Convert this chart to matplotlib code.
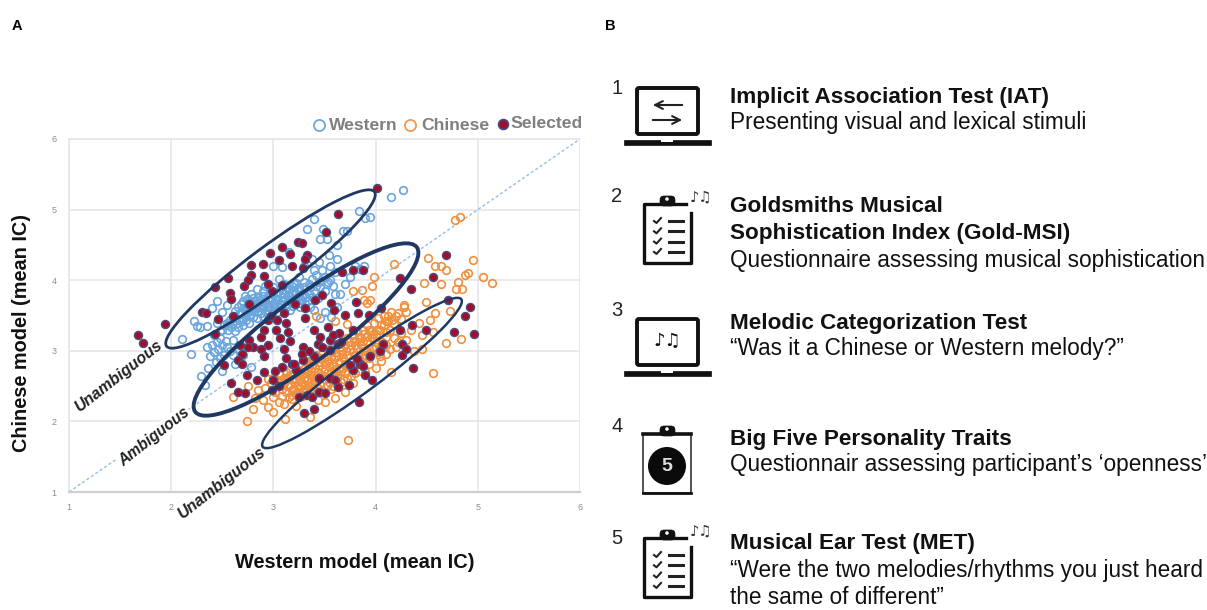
import matplotlib
matplotlib.use("Agg")
import matplotlib.pyplot as plt
from matplotlib.patches import Ellipse, Rectangle, Circle, FancyBboxPatch

plt.rcParams['font.family'] = ['Liberation Sans', 'DejaVu Sans']

western_points = [
(4.27,5.28),(4.15,5.18),(3.84,4.98),(3.95,4.9),(3.9,4.88),(3.4,4.86),(3.33,4.72),(3.49,4.72),(3.72,4.7),(3.68,4.7),
(3.46,4.58),(3.52,4.58),(3.62,4.5),(3.54,4.36),(3.38,4.3),(3.45,4.26),(3.3,4.2),(3.62,4.3),(3.15,4.4),(3.0,4.2),
(3.08,4.18),(3.4,4.15),(3.8,4.2),(3.85,4.16),(3.6,4.12),(3.5,4.05),(3.45,3.98),(3.55,4.0),(3.25,4.05),(3.35,3.95),
(3.2,3.95),(3.65,3.8),(3.4,3.85),(3.3,3.8),(3.2,3.85),(3.1,3.8),(3.0,3.8),(2.9,3.85),(2.95,3.75),(2.85,3.75),
(2.78,3.8),(2.7,3.7),(2.8,3.65),(2.9,3.65),(3.0,3.65),(3.1,3.7),(2.65,3.62),(2.55,3.65),(2.45,3.7),(2.75,3.55),
(2.85,3.55),(2.95,3.58),(2.6,3.5),(2.5,3.55),(2.4,3.6),(2.7,3.45),(2.8,3.48),(2.55,3.4),(2.45,3.4),(2.35,3.35),
(2.25,3.35),(2.22,3.42),(2.11,3.17),(2.19,2.95),(2.28,3.34),(2.35,3.05),(2.33,2.51),(2.29,2.65),(2.78,2.77),(3.4,3.58),
(3.46,3.46),(3.6,3.8),(3.53,3.98),(3.89,4.2),(2.72,3.78),(2.76,3.72),(2.82,3.7),(2.86,3.68),(2.92,3.72),(2.98,3.7),
(3.04,3.74),(3.08,3.76),(3.14,3.78),(3.18,3.74),(3.24,3.78),(3.28,3.72),(2.68,3.66),(2.74,3.62),(2.8,3.6),(2.88,3.62),
(2.94,3.64),(3.02,3.6),(3.06,3.66),(3.12,3.62),(3.2,3.68),(3.26,3.62),(3.34,3.7),(3.38,3.76),(2.62,3.56),(2.68,3.54),
(2.72,3.5),(2.78,3.52),(2.84,3.46),(2.9,3.5),(2.98,3.48),(3.04,3.55),(3.1,3.55),(3.16,3.58),(2.58,3.44),(2.64,3.4),
(2.7,3.36),(2.76,3.4),(2.5,3.3),(2.56,3.3),(2.62,3.28),(2.42,3.22),(2.48,3.18),(2.54,3.14),(2.6,3.16),(2.4,3.08),
(2.46,3.02),(2.52,2.94),(2.58,3.0),(2.38,2.92),(2.44,2.84),(2.36,2.75),(2.62,2.82),(2.7,2.94),(2.5,2.72),(3.0,3.9),
(3.1,3.95),(3.15,3.88),(3.25,3.9),(3.3,3.98),(3.38,4.02),(3.42,4.08),(3.48,4.14),(3.55,4.2),(3.58,3.92),(3.5,3.85),
(3.44,3.75),(3.36,3.62),(3.5,3.55),(3.56,3.48),(3.62,3.62),(3.7,3.95),(3.75,4.05),(2.92,3.92),(2.84,3.88),(3.05,4.02),
(2.74,3.74),(2.77,3.68),(2.8,3.75),(2.83,3.65),(2.87,3.72),(2.9,3.6),(2.93,3.68),(2.96,3.62),(2.99,3.74),(3.02,3.68),
(3.05,3.62),(3.08,3.7),(3.11,3.74),(3.13,3.66),(3.16,3.7),(3.19,3.64),(3.22,3.72),(3.25,3.68),(3.28,3.78),(3.31,3.66),
(2.7,3.6),(2.66,3.52),(2.73,3.56),(2.76,3.5),(2.81,3.56),(2.84,3.6),(2.88,3.54),(2.92,3.56),(2.95,3.52),(3.0,3.56),
(2.6,3.4),(2.63,3.46),(2.66,3.44),(2.69,3.42),(2.73,3.44),(2.56,3.36),(2.59,3.34),(2.52,3.36),(2.48,3.28),(2.65,3.34),
(3.04,3.82),(3.08,3.86),(3.12,3.84),(3.18,3.82),(3.22,3.8),(3.26,3.84),(3.32,3.76),(3.35,3.82),(2.96,3.8),(2.9,3.78),
(3.12,3.9),(3.18,3.92),(3.22,3.96),(3.3,3.9),(3.36,3.9),(3.42,3.92),(3.46,3.9),(3.52,3.94),(2.45,3.12),(2.5,3.08),
(2.42,2.98),(2.48,2.9),(2.55,3.06),(2.6,2.94),(2.66,3.02),
]

chinese_points = [
(4.83,4.89),(4.78,4.85),(4.51,4.32),(4.95,4.29),(4.18,4.23),(4.58,4.2),(4.64,4.2),(4.69,4.15),(4.9,4.1),(4.87,4.08),
(5.05,4.05),(5.14,3.96),(4.47,3.96),(4.64,3.95),(4.81,3.98),(4.79,3.88),(4.85,3.88),(3.98,4.05),(3.96,3.92),(3.87,3.86),
(3.78,3.84),(3.89,3.72),(3.95,3.72),(3.92,3.68),(4.49,3.69),(4.28,3.65),(4.22,3.53),(4.73,3.56),(4.58,3.53),(4.53,3.43),
(4.45,3.22),(4.56,3.26),(4.84,3.17),(4.69,3.11),(4.45,3.03),(4.56,2.68),(4.15,2.7),(2.74,2.0),(3.11,2.03),(3.36,2.06),
(3.73,1.74),(2.6,2.35),(2.8,2.17),(2.95,2.2),(3.0,2.14),(2.9,2.3),(2.82,2.33),(3.22,2.22),(3.1,2.25),(3.5,2.28),
(3.6,2.33),(3.44,2.3),(3.7,2.42),(3.78,2.55),(4.0,2.75),(4.05,2.85),(4.1,2.95),(4.2,3.05),(4.3,3.15),(4.35,3.3),
(4.42,3.4),(4.3,3.55),(4.25,3.45),(4.15,3.55),(4.12,3.42),(4.38,3.0),(3.42,3.5),(3.6,3.42),(3.72,3.38),(4.18,3.18),
(4.28,3.62),(4.1,3.2),(4.05,3.05),(3.95,2.95),(3.9,2.7),(2.75,2.5),(2.85,2.45),(3.0,2.35),(3.05,2.28),(3.15,2.35),
(3.02,2.42),(3.08,2.46),(3.12,2.42),(3.18,2.44),(3.22,2.4),(3.26,2.48),(3.3,2.44),(3.34,2.52),(3.38,2.48),(3.42,2.56),
(3.46,2.52),(3.5,2.6),(3.54,2.56),(3.58,2.66),(3.62,2.62),(3.66,2.72),(3.7,2.68),(3.74,2.78),(3.78,2.75),(3.82,2.86),
(3.86,2.82),(3.9,2.94),(3.94,2.9),(3.98,3.02),(4.02,2.98),(4.06,3.12),(4.1,3.08),(4.14,3.3),(4.18,3.38),(3.04,2.5),
(3.1,2.54),(3.16,2.52),(3.2,2.56),(3.26,2.58),(3.3,2.62),(3.36,2.66),(3.4,2.66),(3.44,2.7),(3.5,2.74),(3.54,2.78),
(3.58,2.82),(3.64,2.84),(3.68,2.9),(3.72,2.94),(3.78,2.98),(3.82,3.04),(3.86,3.08),(3.92,3.14),(3.96,3.18),(4.0,3.24),
(4.04,3.3),(4.08,3.36),(4.12,3.5),(3.0,2.62),(3.06,2.66),(3.12,2.7),(3.16,2.74),(3.22,2.76),(3.28,2.8),(3.32,2.86),
(3.38,2.88),(3.42,2.94),(3.48,2.96),(3.52,3.02),(3.58,3.04),(3.62,3.1),(3.68,3.14),(3.72,3.18),(3.78,3.22),(3.82,3.28),
(3.88,3.3),(3.92,3.36),(3.98,3.4),(4.02,3.46),(4.08,3.5),(2.95,2.6),(2.92,2.48),(2.98,2.55),(3.24,2.66),(3.34,2.72),
(3.46,2.84),(3.56,2.92),(3.66,3.0),(3.76,3.08),(3.86,3.18),(3.96,3.28),(3.14,2.62),(3.2,2.46),(3.3,2.52),(3.4,2.58),
(3.48,2.66),(3.6,2.74),(3.7,2.82),(3.8,2.92),(3.88,3.0),(4.0,3.12),(3.28,2.36),(3.38,2.4),(3.48,2.44),(3.58,2.5),
(3.66,2.56),(3.76,2.64),(3.84,2.72),(3.94,2.82),(4.04,2.92),(4.14,3.02),(4.22,3.12),(4.25,3.25),(3.08,2.36),(3.18,2.32),
(3.08,2.58),(3.12,2.58),(3.18,2.6),(3.22,2.6),(3.28,2.66),(3.32,2.68),(3.37,2.72),(3.41,2.76),(3.45,2.78),(3.5,2.82),
(3.54,2.86),(3.59,2.88),(3.63,2.92),(3.67,2.96),(3.71,3.0),(3.75,3.02),(3.8,3.08),(3.84,3.12),(3.88,3.14),(3.92,3.2),
(3.97,3.24),(4.01,3.3),(4.05,3.36),(4.1,3.42),(3.26,2.72),(3.3,2.74),(3.35,2.78),(3.39,2.82),(3.44,2.84),(3.47,2.9),
(3.52,2.92),(3.56,2.98),(3.61,2.98),(3.65,3.05),(3.7,3.08),(3.74,3.12),(3.79,3.14),(3.84,3.2),(3.89,3.24),(3.94,3.3),
(3.24,2.5),(3.28,2.54),(3.33,2.58),(3.37,2.56),(3.42,2.62),(3.46,2.64),(3.52,2.68),(3.56,2.7),(3.61,2.7),(3.64,2.76),
(3.68,2.76),(3.72,2.82),(3.76,2.86),(3.8,2.82),(3.84,2.9),(3.88,2.92),(3.92,2.98),(3.96,3.04),(4.0,3.06),(3.18,2.38),
(3.24,2.42),(3.32,2.46),(3.36,2.44),(3.44,2.48),(3.52,2.5),(3.56,2.46),(3.62,2.54),(3.68,2.6),(3.72,2.62),(3.8,2.68),
(4.1,3.26),(4.16,3.44),(4.2,3.5),(3.14,2.5),(3.1,2.62),(3.04,2.58),(3.2,2.68),(3.16,2.66),
]

selected_points = [
(4.01,5.31),(3.63,4.94),(3.51,4.68),(3.24,4.54),(3.28,4.52),(3.08,4.47),(2.97,4.38),(3.16,4.37),(3.05,4.28),(3.33,4.36),
(3.31,4.30),(2.78,4.22),(2.90,4.23),(3.18,4.20),(3.29,4.17),(2.56,4.03),(2.78,4.07),(2.91,4.06),(2.75,4.00),(2.43,3.91),
(2.71,3.92),(2.95,3.95),(2.99,3.84),(2.58,3.82),(3.08,3.93),(2.59,3.73),(2.76,3.66),(2.30,3.55),(2.34,3.53),(2.46,3.45),
(2.60,3.50),(2.43,3.24),(1.94,3.38),(1.68,3.23),(1.72,3.11),(4.24,4.03),(3.78,4.14),(3.88,4.14),(3.67,4.11),(4.35,3.87),
(4.56,4.05),(4.69,4.35),(3.48,3.79),(3.41,3.72),(3.56,3.67),(3.21,3.66),(3.31,3.60),(3.81,3.69),(4.05,3.61),(3.59,3.58),
(3.70,3.51),(3.83,3.53),(3.94,3.51),(3.10,3.53),(3.04,3.43),(3.12,3.39),(3.31,3.46),(2.95,3.43),(2.91,3.29),(3.03,3.29),
(3.14,3.27),(2.88,3.20),(2.76,3.15),(2.67,3.08),(2.80,3.06),(2.95,3.08),(3.10,3.03),(2.69,2.96),(2.65,2.87),(2.91,2.92),
(2.52,2.80),(2.69,2.82),(3.40,3.29),(3.53,3.34),(3.64,3.25),(3.78,3.29),(3.29,3.06),(3.44,3.10),(3.55,3.15),(3.29,2.87),
(3.18,2.82),(3.08,2.77),(3.22,2.73),(3.40,2.92),(3.55,3.01),(3.63,3.10),(2.91,2.70),(3.00,2.58),(2.74,2.66),(2.59,2.55),
(2.99,2.44),(2.65,2.42),(2.72,2.40),(3.30,2.12),(3.40,2.18),(3.84,2.28),(3.33,2.37),(3.45,2.42),(3.63,2.49),(3.74,2.51),
(3.55,2.61),(3.96,2.58),(3.78,2.73),(3.85,2.82),(4.07,3.10),(4.26,3.10),(4.26,2.94),(4.37,2.75),(4.96,3.24),(4.77,3.27),
(4.92,3.62),(4.87,3.49),(4.71,3.72),(4.49,3.30),(4.36,3.36),(4.24,3.30),(4.30,3.02),(4.04,3.0),(3.95,2.92),(3.88,2.78),
(3.82,2.88),(3.75,2.8),(3.9,2.66),(3.45,2.62),(3.6,2.58),(3.38,2.35),(3.5,2.4),(3.25,2.34),(3.2,2.82),(3.28,2.95),
(3.12,2.9),(3.35,3.0),(3.48,3.05),(3.58,3.22),(3.46,3.2),(3.66,3.12),(2.88,3.02),(2.75,3.05),(2.84,2.58),(3.02,2.72),
(3.05,2.5),(2.98,3.5),(3.06,3.18),(3.16,3.14),
]

axis_ticks = [1, 2, 3, 4, 5, 6]
diagonal = [1, 6]
legend_labels = ["Western", "Chinese", "Selected"]
region_labels = ["Unambiguous", "Ambiguous", "Unambiguous"]
xlabel_text = "Western model (mean IC)"
ylabel_text = "Chinese model (mean IC)"
task_numbers = ["1", "2", "3", "4", "5"]

W, H = 1207, 610
fig = plt.figure(figsize=(W/100, H/100), dpi=100, facecolor='white')

ax = fig.add_axes([69/W, (H-492)/H, 511/W, 353/H])
ax.set_xlim(1, 6); ax.set_ylim(1, 6)
ax.set_xticks(axis_ticks); ax.set_yticks(axis_ticks)
ax.grid(True, color='#e6e6e6', lw=1.2, zorder=0)
ax.set_axisbelow(True)
for s, sp in ax.spines.items():
    sp.set_color('#e6e6e6'); sp.set_linewidth(1.2)
ax.spines['bottom'].set_color('#cfcfcf'); ax.spines['bottom'].set_linewidth(1.6)
ax.spines['right'].set_visible(False)
ax.tick_params(length=0, labelsize=6.5, labelcolor='#8c8c8c')
ax.tick_params(axis='x', pad=8)
ax.tick_params(axis='y', pad=9)
ax.plot(diagonal, diagonal, ls=(0, (2, 1.5)), color='#9dc3e6', lw=1.1, zorder=1)

wx, wy = zip(*western_points)
cx, cy = zip(*chinese_points)
sx, sy = zip(*selected_points)
ax.plot(wx, wy, 'o', mfc='none', mec='#6aa5dc', mew=1.2, ms=5.5, zorder=2, clip_on=False)
ax.plot(cx, cy, 'o', mfc='none', mec='#f0903f', mew=1.2, ms=5.5, zorder=3, clip_on=False)
ax.plot(sx, sy, 'o', mfc='#a30d2a', mec='#4a4f80', mew=1.0, ms=5.8, zorder=4, clip_on=False)

# overlay in pixel coordinates for annotations and icons
ov = fig.add_axes([0, 0, 1, 1], facecolor='none')
ov.set_xlim(0, W); ov.set_ylim(H, 0); ov.axis('off')

navy = '#1f3864'
for (c, a, b, lw) in [((270.5, 269), 129.5, 22, 2.0), ((306, 329.5), 138, 32, 2.8), ((362, 373), 123.7, 18, 1.8)]:
    ov.add_patch(Ellipse(c, 2*a, 2*b, angle=-36.6, fill=False, ec=navy, lw=lw, zorder=6))

txtkw = dict(rotation=38, rotation_mode='anchor', ha='center', va='center', style='italic',
             weight='bold', color='#222222', zorder=7)
ov.text(118, 376, region_labels[0], fontsize=11.5, **txtkw)
ov.text(154, 437, region_labels[1], fontsize=11.2, bbox=dict(fc='white', ec='none', pad=1), **txtkw)
ov.text(221, 483, region_labels[2], fontsize=11.5, **txtkw)

# legend
leg = [(319, 125, 329, legend_labels[0], 'none', '#6fa8dc'),
       (410, 125, 421, legend_labels[1], 'none', '#f0994f'),
       (503, 124, 510, legend_labels[2], '#a30d2a', '#3f4a80')]
for mx, my, tx, lab, fc, ec in leg:
    ov.plot([mx], [my], 'o', mfc=fc, mec=ec, mew=1.3, ms=8 if fc == 'none' else 7)
    ov.text(tx, my, lab, fontsize=12.6, weight='bold', color='#7f7f7f', va='center', ha='left')

ov.text(355, 563, xlabel_text, fontsize=14.4, weight='bold', ha='center', va='center', color='#111111')
ov.text(22, 333, ylabel_text, fontsize=14.3, weight='bold', ha='center', va='center', rotation=90, color='#111111')
ov.text(17, 26, "A", fontsize=10.5, weight='bold', ha='center', va='center')
ov.text(610, 26, "B", fontsize=10.5, weight='bold', ha='center', va='center')

for n, y in zip(task_numbers, [88, 197, 310, 426, 538]):
    ov.text(617, y, n, fontsize=14.5, ha='center', va='center', color='#222222')

def laptop(y0, arrows=False):
    ov.add_patch(FancyBboxPatch((637, y0+1), 61, 46, boxstyle='round,pad=0,rounding_size=2', fill=False, ec='#111111', lw=2.8))
    ov.add_patch(Rectangle((624, y0+53), 87, 5, fc='#111111', ec='#111111', lw=0.5))
    ov.add_patch(Rectangle((661, y0+53), 12, 2, fc='white', ec='none', zorder=3))
    if arrows:
        ov.annotate('', xy=(650, y0+18), xytext=(685, y0+18), arrowprops=dict(arrowstyle='->', lw=1.5, color='#222222', mutation_scale=14))
        ov.annotate('', xy=(685, y0+33), xytext=(650, y0+33), arrowprops=dict(arrowstyle='->', lw=1.5, color='#222222', mutation_scale=14))

def clip_head(y0):
    ov.add_patch(FancyBboxPatch((660, y0-8), 15, 10, boxstyle='round,pad=0,rounding_size=4', fc='#111111', ec='#111111', lw=0.5, zorder=4))
    ov.add_patch(Circle((667, y0-5), 1.8, fc='white', ec='none', zorder=5))

def clipboard(y0):
    ov.plot([686, 658, 644, 644, 691, 691], [y0, y0, y0, y0+59, y0+59, y0+9], color='#111111', lw=2.4, solid_joinstyle='round')
    clip_head(y0)
    for i in range(4):
        yy = y0 + 17 + i*10.3
        ov.plot([654, 656.5, 661], [yy, yy+2, yy-3], color='#222222', lw=1.5)
        ov.plot([669, 683], [yy, yy], color='#222222', lw=2.2)
    ov.text(701, y0-7, '\u266a\u266b', family='DejaVu Sans', fontsize=10.5, ha='center', va='center', color='#333333')

laptop(87, arrows=True)
clipboard(204)
laptop(318)
ov.text(667, 341, '\u266a\u266b', family='DejaVu Sans', fontsize=13, ha='center', va='center', color='#111111')

ov.plot([643, 643, 691, 691], [434, 493, 493, 434], color='#333333', lw=1.2)
ov.plot([643, 691], [492.5, 492.5], color='#111111', lw=2)
ov.plot([643, 691], [434, 434], color='#111111', lw=2.6)
clip_head(434)
ov.add_patch(Circle((667, 466), 19, fc='#0a0a0a', ec='none'))
ov.text(667, 466.5, '5', fontsize=14, color='#dddddd', ha='center', va='center', weight='bold')
clipboard(538)

rows = [
 (730, 97, "Implicit Association Test (IAT)", True),
 (730, 122, "Presenting visual and lexical stimuli", False),
 (730, 207, "Goldsmiths Musical", True),
 (730, 234, "Sophistication Index (Gold-MSI)", True),
 (730, 260, "Questionnaire assessing musical sophistication", False),
 (730, 324, "Melodic Categorization Test", True),
 (730, 349, "\u201cWas it a Chinese or Western melody?\u201d", False),
 (730, 439, "Big Five Personality Traits", True),
 (730, 465, "Questionnair assessing participant\u2019s \u2018openness\u2019", False),
 (730, 544, "Musical Ear Test (MET)", True),
 (730, 571, "\u201cWere the two melodies/rhythms you just heard", False),
 (730, 597, "the same of different\u201d", False),
]
for x, y, s, b in rows:
    ov.text(x, y, s, fontsize=16.2 if b else 16.3, weight='bold' if b else 'normal', ha='left', va='center', color='#111111')

fig.savefig('out.png', dpi=100)
